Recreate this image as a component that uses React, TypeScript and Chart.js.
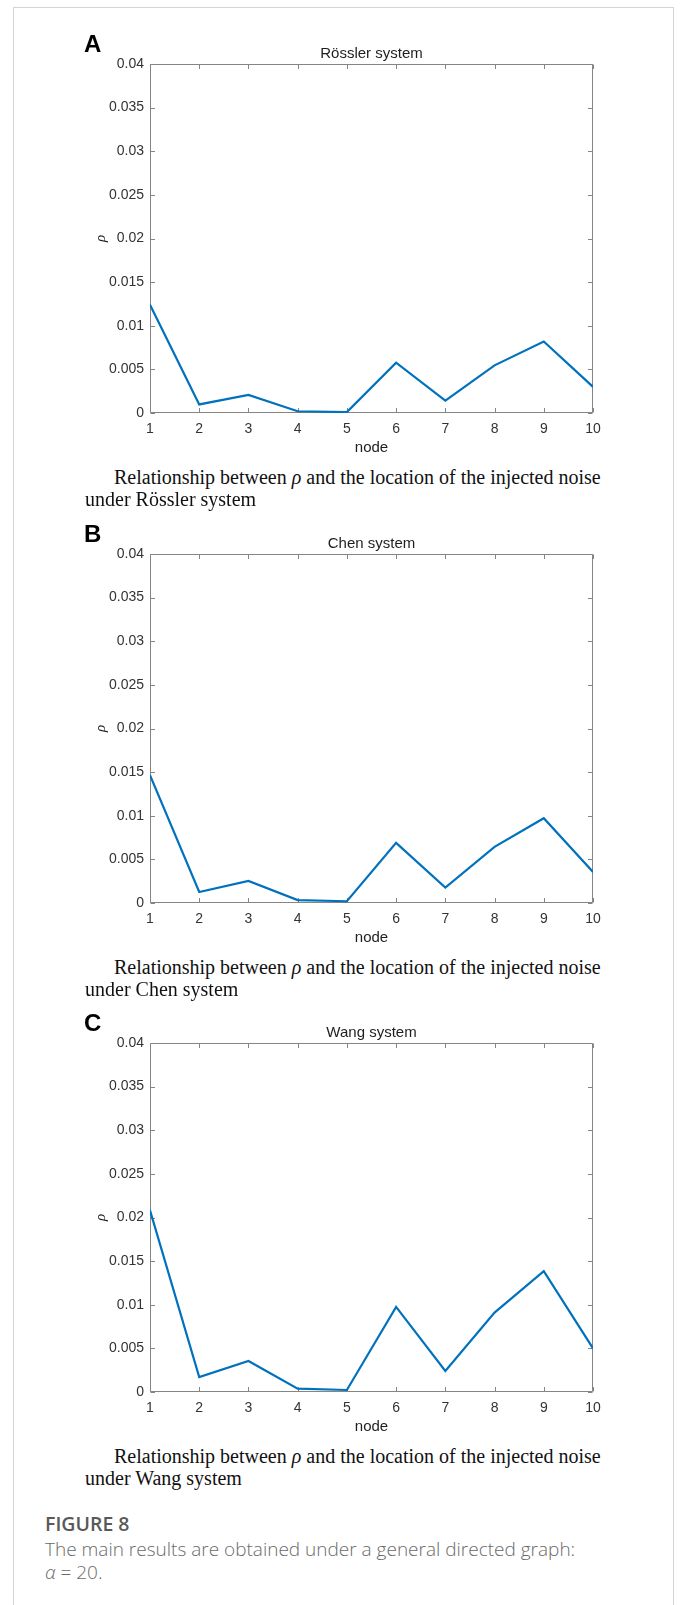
import React, { useEffect, useRef } from "react";
import { Chart, registerables } from "chart.js";

Chart.register(...registerables);

// Node index on the horizontal axis
const nodeIds = [1, 2, 3, 4, 5, 6, 7, 8, 9, 10];

// rho for noise injected at each node
const rosslerRho = [0.0124, 0.00098, 0.00208, 0.0002, 0.0001, 0.00577, 0.00142, 0.00546, 0.0082, 0.003];
const chenRho = [0.01465, 0.00126, 0.00252, 0.00034, 0.0002, 0.00689, 0.00176, 0.00643, 0.00972, 0.00356];
const wangRho = [0.02083, 0.00172, 0.00356, 0.00038, 0.00023, 0.00975, 0.00241, 0.0091, 0.01384, 0.00501];

// Vertical axis ticks
const rhoTicks = [0, 0.005, 0.01, 0.015, 0.02, 0.025, 0.03, 0.035, 0.04];
const rhoTickLabels = ["0", "0.005", "0.01", "0.015", "0.02", "0.025", "0.03", "0.035", "0.04"];

const panelLetters = ["A", "B", "C"];
const systemNames = ["Rössler system", "Chen system", "Wang system"];
const panelSeries = [rosslerRho, chenRho, wangRho];

// Layout (px)
const PANEL_OFFSETS = [0, 490, 979];
const CANVAS_W = 680;
const CANVAS_H = 462;
const PLOT_LEFT = 150;
const PLOT_RIGHT = 593;
const PLOT_TOP = 64;
const PLOT_BOTTOM = 413;
const X_AXIS_H = 45;
const TICK_LEN = 4.5;

const LINE_COLOR = "#0072BD";
const AXIS_COLOR = "#858585";
const TICK_TEXT = "#333333";
const LABEL_TEXT = "#1e1e1e";
const SANS = "'Liberation Sans', Arial, Helvetica, sans-serif";
const SERIF = "'Liberation Serif', 'Times New Roman', serif";
const CAPTION_SANS = "'Open Sans', 'Noto Sans', sans-serif";

// Box around the plot with inward tick marks on all four sides
const axisBoxPlugin = {
  id: "axisBox",
  beforeDatasetsDraw(chart: any) {
    const { ctx, chartArea } = chart;
    const xs = chart.scales.x;
    const ys = chart.scales.y;
    const l = Math.round(chartArea.left) + 0.5;
    const r = Math.round(chartArea.right) - 0.5;
    const t = Math.round(chartArea.top) + 0.5;
    const b = Math.round(chartArea.bottom) - 0.5;
    ctx.save();
    ctx.strokeStyle = AXIS_COLOR;
    ctx.lineWidth = 1;
    ctx.beginPath();
    ctx.rect(l, t, r - l, b - t);
    for (const tk of xs.ticks) {
      const px = Math.round(xs.getPixelForValue(tk.value)) + 0.5;
      ctx.moveTo(px, b);
      ctx.lineTo(px, b - TICK_LEN);
      ctx.moveTo(px, t);
      ctx.lineTo(px, t + TICK_LEN);
    }
    for (const tk of ys.ticks) {
      const py = Math.round(ys.getPixelForValue(tk.value)) + 0.5;
      ctx.moveTo(l, py);
      ctx.lineTo(l + TICK_LEN, py);
      ctx.moveTo(r, py);
      ctx.lineTo(r - TICK_LEN, py);
    }
    ctx.stroke();
    ctx.restore();
  },
};

function makeConfig(title: string, values: number[]): any {
  const titleSize = 15;
  const titleLine = titleSize * 1.2;
  const titleMid = 54;
  return {
    type: "line",
    data: {
      datasets: [
        {
          data: nodeIds.map((n, i) => ({ x: n, y: values[i] })),
          borderColor: LINE_COLOR,
          borderWidth: 2.2,
          pointRadius: 0,
          tension: 0,
          fill: false,
        },
      ],
    },
    options: {
      animation: false,
      responsive: false,
      events: [],
      layout: {
        padding: {
          left: 0,
          right: CANVAS_W - PLOT_RIGHT,
          top: 0,
          bottom: CANVAS_H - PLOT_BOTTOM - X_AXIS_H,
        },
      },
      plugins: {
        legend: { display: false },
        tooltip: { enabled: false },
        title: {
          display: true,
          text: title,
          fullSize: false,
          color: LABEL_TEXT,
          font: { family: SANS, size: titleSize, weight: "normal", lineHeight: 1.2 },
          padding: { top: titleMid - titleLine / 2, bottom: PLOT_TOP - titleMid - titleLine / 2 },
        },
      },
      scales: {
        x: {
          type: "linear",
          min: 1,
          max: 10,
          grid: { display: false, drawTicks: false },
          border: { display: false },
          afterBuildTicks: (s: any) => {
            s.ticks = nodeIds.map((v) => ({ value: v }));
          },
          afterFit: (s: any) => {
            s.height = X_AXIS_H;
            s.paddingLeft = 0;
            s.paddingRight = 0;
          },
          ticks: {
            padding: 7.3,
            color: TICK_TEXT,
            autoSkip: false,
            maxRotation: 0,
            font: { family: SANS, size: 14, lineHeight: 1.2 },
            callback: (v: number) => String(v),
          },
          title: {
            display: true,
            text: "node",
            color: LABEL_TEXT,
            font: { family: SANS, size: 15, lineHeight: 1.2 },
            padding: { top: 0, bottom: 1.5 },
          },
        },
        y: {
          type: "linear",
          min: 0,
          max: 0.04,
          grid: { display: false, drawTicks: false },
          border: { display: false },
          afterBuildTicks: (s: any) => {
            s.ticks = rhoTicks.map((v) => ({ value: v }));
          },
          afterFit: (s: any) => {
            s.width = PLOT_LEFT;
            s.paddingTop = 0;
            s.paddingBottom = 0;
          },
          ticks: {
            padding: 6,
            color: TICK_TEXT,
            font: { family: SANS, size: 14, lineHeight: 1.2 },
            callback: (v: number) => rhoTickLabels[rhoTicks.indexOf(v)] ?? String(v),
          },
          title: {
            display: true,
            text: "ρ",
            color: LABEL_TEXT,
            font: { family: SERIF, size: 15, style: "italic", lineHeight: 1.2 },
            padding: { top: 92, bottom: 0 },
          },
        },
      },
    },
    plugins: [axisBoxPlugin],
  };
}

function RhoPanel({ title, values, top }: { title: string; values: number[]; top: number }) {
  const ref = useRef<HTMLCanvasElement>(null);
  useEffect(() => {
    if (!ref.current) return;
    const chart = new Chart(ref.current, makeConfig(title, values));
    return () => chart.destroy();
  }, [title, values]);
  return (
    <canvas
      ref={ref}
      width={CANVAS_W}
      height={CANVAS_H}
      style={{ position: "absolute", left: 0, top, width: CANVAS_W, height: CANVAS_H }}
    />
  );
}

// Text placed by its baseline; asc/content are the font's ascent and ascent+descent in em
function BaselineText({
  children,
  left,
  baseline,
  size,
  lineH,
  asc,
  content,
  style,
}: {
  children: React.ReactNode;
  left: number;
  baseline: number;
  size: number;
  lineH: number;
  asc: number;
  content: number;
  style?: React.CSSProperties;
}) {
  const top = baseline - ((lineH - content * size) / 2 + asc * size);
  return (
    <div
      style={{
        position: "absolute",
        left,
        top,
        fontSize: size,
        lineHeight: `${lineH}px`,
        whiteSpace: "nowrap",
        ...style,
      }}
    >
      {children}
    </div>
  );
}

export default function App() {
  return (
    <div
      style={{
        position: "absolute",
        left: 0,
        top: 0,
        width: 680,
        height: 1605,
        overflow: "hidden",
        background: "#ffffff",
      }}
    >
      <div
        style={{
          position: "absolute",
          left: 13,
          top: 7,
          width: 659,
          height: 1700,
          borderLeft: "1px solid #d4d4d4",
          borderTop: "1px solid #d4d4d4",
          borderRight: "1px solid #d4d4d4",
        }}
      />
      {panelSeries.map((vals, i) => (
        <RhoPanel key={systemNames[i]} title={systemNames[i]} values={vals} top={PANEL_OFFSETS[i]} />
      ))}
      {panelLetters.map((letter, i) => (
        <BaselineText
          key={letter}
          left={84}
          baseline={52 + PANEL_OFFSETS[i]}
          size={24}
          lineH={24}
          asc={0.905}
          content={1.117}
          style={{ fontFamily: SANS, fontWeight: 700, color: "#000" }}
        >
          {letter}
        </BaselineText>
      ))}
      {systemNames.map((name, i) => (
        <React.Fragment key={"cap" + name}>
          <BaselineText
            left={114}
            baseline={484 + PANEL_OFFSETS[i]}
            size={20}
            lineH={22}
            asc={0.891}
            content={1.107}
            style={{ fontFamily: SERIF, color: "#111" }}
          >
            Relationship between <i>ρ</i> and the location of the injected noise
          </BaselineText>
          <BaselineText
            left={85}
            baseline={506 + PANEL_OFFSETS[i]}
            size={20}
            lineH={22}
            asc={0.891}
            content={1.107}
            style={{ fontFamily: SERIF, color: "#111" }}
          >
            under {name}
          </BaselineText>
        </React.Fragment>
      ))}
      <BaselineText
        left={45}
        baseline={1532}
        size={19.5}
        lineH={24}
        asc={1.069}
        content={1.362}
        style={{ fontFamily: CAPTION_SANS, fontWeight: 600, color: "#595959" }}
      >
        FIGURE 8
      </BaselineText>
      <BaselineText
        left={45}
        baseline={1556.5}
        size={19}
        lineH={23}
        asc={1.069}
        content={1.362}
        style={{ fontFamily: CAPTION_SANS, fontWeight: 300, color: "#6a6a6a" }}
      >
        The main results are obtained under a general directed graph:
      </BaselineText>
      <BaselineText
        left={45}
        baseline={1580}
        size={19}
        lineH={23}
        asc={1.069}
        content={1.362}
        style={{ fontFamily: CAPTION_SANS, fontWeight: 300, color: "#6a6a6a" }}
      >
        <i>α</i> = 20.
      </BaselineText>
    </div>
  );
}
